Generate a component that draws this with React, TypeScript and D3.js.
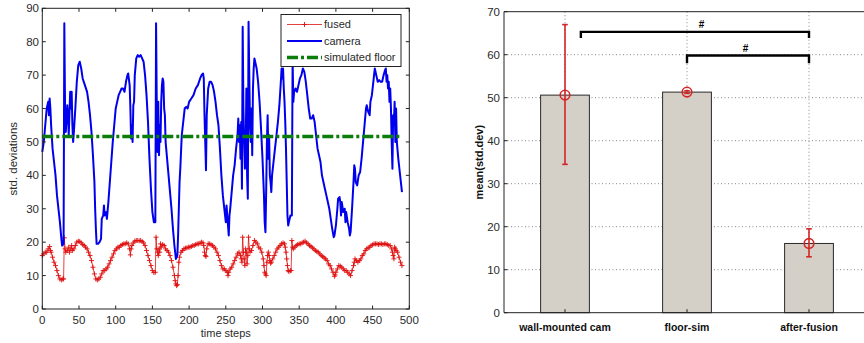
import React from 'react';
import * as d3 from 'd3';

// left panel: std. deviation per time step, as [time step, value]
const camera: [number, number][] = [
  [0, 47], [2, 50], [4, 55], [6, 60], [8, 62], [9, 58], [10, 63], [11, 60], [12, 55], [14, 48], [16, 44], [18, 40],
  [20, 34], [22, 30], [24, 26], [26, 21], [27, 19], [29, 19.5], [30, 85.5], [31, 60], [32, 53], [34, 61], [35, 58],
  [36, 52], [38, 65], [39, 60], [40, 65], [41, 55], [42, 50], [43, 53], [45, 60], [47, 68], [49, 73], [51, 74],
  [53, 72], [55, 69], [58, 67], [61, 65], [63, 62], [65, 58], [67, 53], [69, 46], [71, 38], [72, 30], [73, 24],
  [74, 19.5], [76, 19.5], [78, 20], [80, 21], [81, 27], [83, 28], [84, 31], [85, 28], [87, 29], [88, 27], [90, 32],
  [92, 38], [94, 44], [96, 50], [98, 55], [100, 60], [102, 62], [104, 64], [106, 65], [108, 66], [110, 66], [112, 65],
  [114, 68], [116, 70], [117, 70.5], [119, 67], [120, 60], [121, 51], [122, 55], [123, 50], [124, 61], [125, 62],
  [126, 70], [128, 75], [130, 76], [132, 75.5], [134, 76], [136, 75], [138, 74], [140, 70], [142, 64], [144, 56],
  [146, 45], [148, 36], [150, 29], [152, 26], [154, 26], [155, 85.5], [156, 60], [157, 47], [158, 62], [159, 46],
  [160, 55], [161, 50], [162, 62], [163, 67], [164, 69], [165, 68], [166, 60], [167, 58], [168, 50], [170, 45],
  [172, 40], [174, 35], [176, 30], [178, 24], [180, 19], [182, 15], [184, 16], [185, 22], [186, 30], [187, 38],
  [188, 42], [190, 52], [192, 56], [194, 60], [196, 60.5], [198, 60], [200, 62], [203, 63], [206, 64], [209, 66],
  [212, 67], [215, 69], [217, 70], [219, 70.5], [220, 69], [221, 58], [222, 50], [223, 41.5], [224, 58], [226, 66],
  [228, 68], [230, 68], [232, 67], [234, 65], [236, 62], [238, 58], [240, 55], [242, 48], [244, 40], [246, 34],
  [248, 30], [250, 26], [251, 31], [252, 28], [253, 25], [254, 22], [255, 28], [256, 30], [258, 35], [260, 40],
  [262, 43], [264, 48], [266, 52], [267, 57], [268, 50], [269, 55], [270, 45], [271, 56], [272, 36], [273, 84.5],
  [274, 60], [275, 50], [276, 42], [277, 45], [278, 66], [279, 40], [280, 33], [281, 86], [282, 70], [283, 55],
  [284, 50], [285, 60], [286, 46], [287, 66], [288, 72], [289, 75], [290, 74], [292, 72], [294, 68], [296, 62],
  [298, 54], [300, 45], [302, 34], [303, 26], [304, 23], [305, 35], [306, 50], [307, 58], [308, 45], [309, 52],
  [310, 40], [311, 38], [312, 35], [313, 40], [315, 44], [317, 48], [319, 52], [321, 56], [323, 61], [325, 68],
  [326, 72], [327, 69], [328, 72], [329, 66], [330, 62], [331, 56], [332, 48], [333, 38], [334, 28], [335, 25],
  [336, 26], [338, 28], [340, 28], [341, 75], [342, 62], [343, 65], [345, 66], [347, 65], [349, 67], [351, 69],
  [353, 70], [355, 72], [357, 71], [359, 68], [361, 64], [363, 60], [365, 57], [367, 57], [369, 58], [371, 56],
  [373, 52], [375, 48], [377, 46], [379, 44], [381, 40], [383, 38], [385, 36], [387, 34], [389, 32], [391, 30],
  [393, 27], [395, 24], [397, 21.5], [398, 22], [400, 25], [402, 30], [403, 33], [405, 33.5], [406, 32], [407, 28],
  [408, 32], [410, 29], [412, 30], [413, 26], [414, 29], [416, 26], [418, 24], [419, 22], [420, 23], [422, 30],
  [424, 38], [425, 43], [426, 42], [427, 38], [429, 37], [431, 40], [433, 41], [435, 45], [437, 50], [439, 55],
  [441, 60], [442, 61], [444, 59], [446, 58], [447, 62], [449, 64], [451, 68], [453, 72], [455, 70], [457, 68],
  [459, 68.5], [461, 68], [463, 68], [465, 70], [467, 71.5], [468, 72], [469, 68], [470, 70], [471, 66], [472, 68],
  [473, 62], [474, 66], [475, 60], [476, 50], [477, 42], [478, 58], [479, 55], [480, 62], [481, 50], [482, 60],
  [483, 50], [485, 45], [487, 41], [489, 37], [490, 35],
];

const fused: [number, number][] = [
  [0, 16], [2, 16.5], [4, 17], [6, 17], [8, 18], [10, 18.7], [11, 17.5], [12, 17], [14, 15.5], [16, 14], [18, 13],
  [20, 11.5], [22, 10], [24, 9], [26, 8.7], [28, 9], [29, 9], [30, 21.3], [31, 18], [32, 17], [34, 17.5], [36, 18.5],
  [37, 17], [39, 18], [40, 19], [41, 17.5], [43, 18], [45, 19], [47, 20], [49, 20.3], [51, 20.2], [53, 19.8],
  [55, 19.3], [57, 19], [59, 18.5], [61, 18], [63, 17], [65, 16], [67, 14.5], [69, 12.5], [71, 10.5], [73, 9],
  [75, 8.7], [77, 9], [79, 9.5], [81, 10.5], [83, 11.5], [85, 11.5], [87, 12], [89, 12.5], [91, 13.5], [93, 14.5],
  [95, 15.5], [97, 16.5], [99, 17.5], [101, 18], [103, 18.5], [105, 18.5], [107, 19], [109, 19.3], [111, 19.5],
  [113, 19.5], [115, 19.8], [117, 19.5], [119, 18], [120, 16.2], [121, 18], [122, 19], [124, 19.8], [126, 20.3],
  [128, 20.5], [130, 20.5], [132, 20.4], [134, 20.5], [136, 20.2], [138, 19.8], [140, 19], [142, 17.5], [144, 16],
  [146, 14.5], [148, 13], [150, 11.5], [152, 10.9], [154, 11], [155, 21.5], [156, 18], [157, 17], [158, 16],
  [159, 18], [160, 17], [161, 19.5], [162, 18.5], [164, 19.3], [166, 19], [168, 18], [170, 17.5], [172, 17],
  [174, 16], [176, 14.5], [178, 12.5], [180, 10], [181, 8.5], [182, 7.5], [183, 7], [184, 7.3], [185, 10], [186, 14],
  [187, 15.5], [189, 17], [191, 17.5], [193, 18], [195, 18.2], [197, 18.3], [199, 18.5], [201, 18.5], [203, 18.7],
  [205, 19], [207, 19], [209, 19.3], [211, 19.5], [213, 19.5], [215, 19.7], [217, 20], [219, 19.8], [220, 19],
  [221, 17], [222, 16], [223, 15.7], [224, 18], [226, 19.5], [228, 19.5], [230, 19.2], [232, 19], [234, 18.5],
  [236, 18], [238, 17], [240, 16], [242, 14.5], [244, 13], [246, 12], [248, 12], [250, 11.5], [252, 11], [253, 10],
  [254, 11], [256, 12], [258, 12.5], [260, 13.5], [262, 14.5], [264, 15.5], [266, 16.5], [268, 17], [270, 16],
  [271, 15], [272, 14], [273, 21.5], [274, 17], [275, 15], [276, 13], [277, 18], [278, 17], [279, 13.5], [280, 16],
  [281, 21.5], [282, 18], [283, 17], [285, 17.5], [287, 19], [289, 20.5], [291, 20], [293, 19.5], [295, 18.5],
  [297, 18], [299, 17], [301, 15], [302, 13], [303, 11], [304, 10.5], [305, 10], [306, 14], [307, 16], [308, 17],
  [309, 16], [310, 14.5], [311, 13.7], [312, 14], [314, 15], [316, 16], [318, 17], [320, 18], [322, 18.5], [324, 19],
  [326, 19.5], [328, 19.8], [330, 19.5], [331, 18.5], [332, 17], [333, 15], [334, 13], [335, 11.5], [336, 11.2],
  [338, 11.5], [339, 11.5], [340, 20.5], [341, 18.5], [342, 18], [344, 18.5], [346, 19], [348, 19.3], [350, 19.5],
  [352, 19.5], [354, 19.8], [356, 20], [358, 20.3], [360, 19.8], [362, 19.5], [364, 19], [366, 18.7], [368, 18.3],
  [370, 18], [372, 17.5], [374, 17.2], [376, 17], [378, 16.5], [380, 16], [382, 15.7], [384, 15.3], [386, 15],
  [388, 14.5], [390, 13.5], [392, 13], [394, 12], [396, 11], [398, 9.8], [399, 10.2], [400, 11], [402, 12], [404, 13],
  [406, 12.8], [408, 12.5], [410, 12], [412, 11.5], [414, 11.5], [416, 11], [418, 10.5], [420, 10], [422, 11.5],
  [424, 13], [425, 14], [426, 15], [428, 14.5], [430, 14], [432, 14.5], [434, 15], [436, 16], [438, 16.5],
  [440, 17.5], [442, 18], [444, 18.3], [446, 18.5], [448, 19], [450, 19.2], [452, 19.5], [454, 19.5], [456, 19.5],
  [458, 19.3], [460, 19.5], [462, 19.5], [464, 19.3], [466, 19.5], [468, 19.5], [470, 19.3], [472, 19], [474, 19],
  [476, 18], [477, 17], [478, 16], [479, 15], [480, 18.5], [481, 18], [482, 17.5], [484, 17], [486, 15.5], [488, 14],
  [490, 13],
];

const floorLevel = 51.6;
const floorSpan = [0, 490];
const timeTicks = [0, 50, 100, 150, 200, 250, 300, 350, 400, 450, 500];
const devTicks = [0, 10, 20, 30, 40, 50, 60, 70, 80, 90];
const legendNames = ['fused', 'camera', 'simulated floor'];

// right panel: mean of the std. deviations with error range
const categories = ['wall-mounted cam', 'floor-sim', 'after-fusion'];
const means = [50.6, 51.3, 16.1];
const lows = [34.5, 51.0, 13.0];
const highs = [67.0, 51.6, 19.5];
const meanTicks = [0, 10, 20, 30, 40, 50, 60, 70];
// significance brackets: [from, to, level, foot, label position, label level]
const brackets = [
  [1.13, 3, 65.3, 63.9, 2.12, 67.0],
  [2, 3, 59.8, 58.0, 2.48, 61.4],
];

const FONT = '"Liberation Sans", Arial, sans-serif';
const TXT = '#2a2a2a';
const RED = '#e01010';
const ERR = '#d42424';
const BLUE = '#0000ee';
const GREEN = '#0b7d0b';

export default function App() {
  // left axes
  const x = d3.scaleLinear().domain([0, 500]).range([42.3, 409.3]);
  const y = d3.scaleLinear().domain([0, 90]).range([309, 8.3]);
  const line = d3.line<[number, number]>().x(d => x(d[0])).y(d => y(d[1]));

  // right axes
  const bx = d3.scaleLinear().domain([0.5, 3.5]).range([504, 870]);
  const by = d3.scaleLinear().domain([0, 70]).range([312.7, 11.7]);
  const barW = bx(1.4) - bx(1);

  const [x0, x1] = x.range();
  const [y0, y1] = y.range();
  const [bx0, bx1] = bx.range();
  const [by0, by1] = by.range();
  const tk = 3.5;

  return (
    <svg width={864} height={343} style={{ position: 'absolute', left: 0, top: 0, background: '#fff' }} fontFamily={FONT}>
      {/* ---------- left panel ---------- */}
      <g>
        <path d={line(fused) as string} fill="none" stroke={RED} strokeWidth={0.8} />
        {fused.map((d, i) => (
          <path key={i} d={`M${x(d[0]) - 2.5},${y(d[1])}h5M${x(d[0])},${y(d[1]) - 2.5}v5`} stroke={RED} strokeWidth={0.9} />
        ))}
        <path d={line(camera) as string} fill="none" stroke={BLUE} strokeWidth={2} strokeLinejoin="round" />
        <line x1={x(floorSpan[0])} x2={x(floorSpan[1])} y1={y(floorLevel)} y2={y(floorLevel)}
          stroke={GREEN} strokeWidth={3.5} strokeDasharray="11,3,3,3" />

        <rect x={x0} y={y1} width={x1 - x0} height={y0 - y1} fill="none" stroke="#222" strokeWidth={1} />
        {timeTicks.map(t => (
          <g key={t}>
            <line x1={x(t)} x2={x(t)} y1={y0} y2={y0 - tk} stroke="#222" />
            <line x1={x(t)} x2={x(t)} y1={y1} y2={y1 + tk} stroke="#222" />
            <text x={x(t)} y={323.5} textAnchor="middle" fontSize={11.5} fill={TXT}>{t}</text>
          </g>
        ))}
        {devTicks.map(v => (
          <g key={v}>
            <line x1={x0} x2={x0 + tk} y1={y(v)} y2={y(v)} stroke="#222" />
            <line x1={x1} x2={x1 - tk} y1={y(v)} y2={y(v)} stroke="#222" />
            <text x={39} y={y(v)} dy="0.36em" textAnchor="end" fontSize={11.5} fill={TXT}>{v}</text>
          </g>
        ))}
        <text x={(x0 + x1) / 2} y={337} textAnchor="middle" fontSize={11} fill={TXT}>time steps</text>
        <text transform={`translate(17,${(y0 + y1) / 2}) rotate(-90)`} textAnchor="middle" fontSize={11.5} fill={TXT}>
          std. deviations
        </text>

        {/* legend */}
        <g transform="translate(281,14.5)">
          <rect width={120} height={52} fill="#fff" stroke="#222" strokeWidth={1} />
          {legendNames.map((name, i) => {
            const ly = 10 + i * 16.5;
            return (
              <g key={name}>
                {i === 0 && (
                  <>
                    <line x1={6} x2={41} y1={ly} y2={ly} stroke={RED} strokeWidth={0.8} />
                    <path d={`M${21},${ly}h5M${23.5},${ly - 2.5}v5`} stroke={RED} strokeWidth={0.9} />
                  </>
                )}
                {i === 1 && <line x1={6} x2={41} y1={ly} y2={ly} stroke={BLUE} strokeWidth={2} />}
                {i === 2 && (
                  <line x1={6} x2={41} y1={ly} y2={ly} stroke={GREEN} strokeWidth={3.5} strokeDasharray="11,3,3,3" />
                )}
                <text x={43} y={ly} dy="0.36em" fontSize={11} fill={TXT}>{name}</text>
              </g>
            );
          })}
        </g>
      </g>

      {/* ---------- right panel ---------- */}
      <g>
        {meanTicks.slice(1, -1).map(v => (
          <line key={v} x1={bx0} x2={bx1} y1={by(v)} y2={by(v)} stroke="#888" strokeWidth={1} strokeDasharray="1,2.5" />
        ))}
        {categories.map((c, i) => (
          <line key={c} x1={bx(i + 1)} x2={bx(i + 1)} y1={by1} y2={by0} stroke="#888" strokeWidth={1} strokeDasharray="1,2.5" />
        ))}
        {categories.map((c, i) => (
          <rect key={c} x={bx(i + 1) - barW / 2} y={by(means[i])} width={barW} height={by(0) - by(means[i])}
            fill="#d4d0c8" stroke="#2a2a2a" strokeWidth={1} />
        ))}
        {categories.map((c, i) => {
          const cx = bx(i + 1);
          return (
            <g key={c} stroke={ERR} strokeWidth={1.6} fill="none">
              <line x1={cx} x2={cx} y1={by(lows[i])} y2={by(highs[i])} />
              <line x1={cx - 2.8} x2={cx + 2.8} y1={by(lows[i])} y2={by(lows[i])} />
              <line x1={cx - 2.8} x2={cx + 2.8} y1={by(highs[i])} y2={by(highs[i])} />
              <circle cx={cx} cy={by(means[i])} r={4.8} />
            </g>
          );
        })}
        {brackets.map((b, i) => (
          <g key={i}>
            <path d={`M${bx(b[0])},${by(b[3])}V${by(b[2])}H${bx(b[1])}V${by(b[3])}`} fill="none" stroke="#000"
              strokeWidth={2.4} />
            <text x={bx(b[4])} y={by(b[5])} dy="0.36em" textAnchor="middle" fontSize={10} fontWeight="bold" fill="#000">#</text>
          </g>
        ))}

        <path d={`M${bx1},${by1}H${bx0}V${by0}H${bx1}`} fill="none" stroke="#222" strokeWidth={1} />
        {meanTicks.map(v => (
          <g key={v}>
            <line x1={bx0} x2={bx0 + tk} y1={by(v)} y2={by(v)} stroke="#222" />
            <text x={500} y={by(v)} dy="0.36em" textAnchor="end" fontSize={11.5} fill={TXT}>{v}</text>
          </g>
        ))}
        {categories.map((c, i) => (
          <g key={c}>
            <line x1={bx(i + 1)} x2={bx(i + 1)} y1={by0} y2={by0 - tk} stroke="#222" />
            <text x={bx(i + 1)} y={331} textAnchor="middle" fontSize={10.5} fontWeight="bold" fill="#111">{c}</text>
          </g>
        ))}
        <text transform={`translate(483,${(by0 + by1) / 2}) rotate(-90)`} textAnchor="middle" fontSize={11}
          fontWeight="bold" fill="#111">mean(std.dev)</text>
      </g>
    </svg>
  );
}
